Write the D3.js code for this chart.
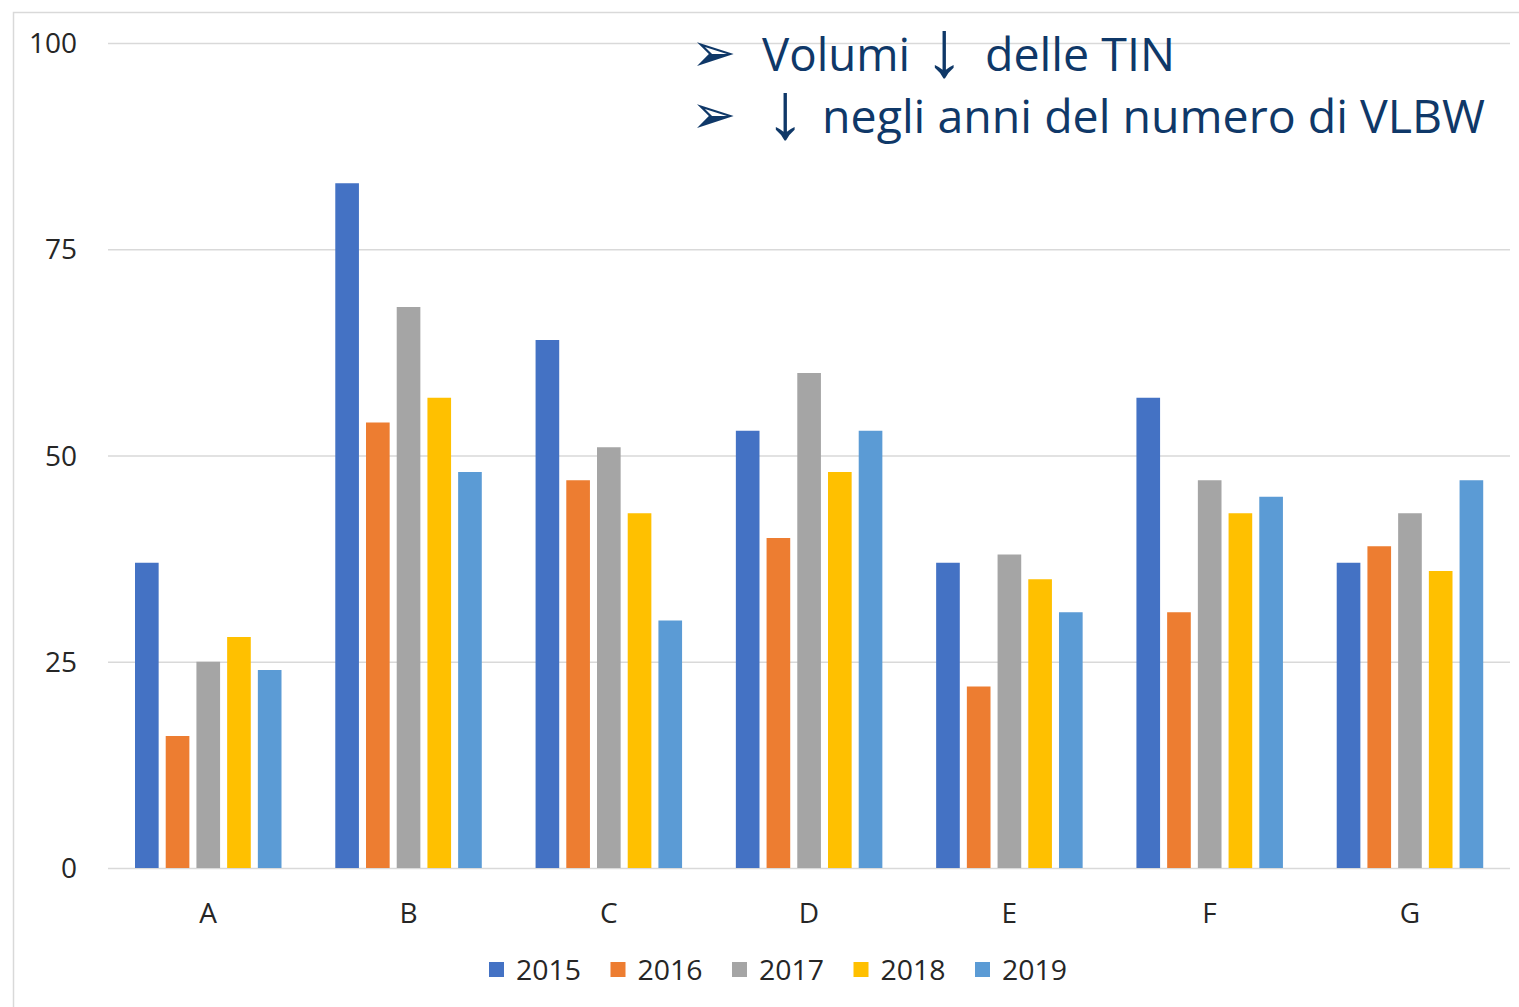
<!DOCTYPE html>
<html>
<head>
<meta charset="utf-8">
<script src="https://cdn.jsdelivr.net/npm/d3@7"></script>
<style>
	body { margin: 0; background: #fff; }
	svg { display: block; }
	.tick text { fill: #262626; }
</style>
</head>
<body>
<svg id="chart" width="1519" height="1007"></svg>
<script>
'use strict';

var categories = ['A', 'B', 'C', 'D', 'E', 'F', 'G'];
var years = ['2015', '2016', '2017', '2018', '2019'];
var yearColors = ['#4472C4', '#ED7D31', '#A5A5A5', '#FFC000', '#5B9BD5'];
var yTicks = [0, 25, 50, 75, 100];

// one array per year, values for A..G
var v2015 = [37, 83, 64, 53, 37, 57, 37];
var v2016 = [16, 54, 47, 40, 22, 31, 39];
var v2017 = [25, 68, 51, 60, 38, 47, 43];
var v2018 = [28, 57, 43, 48, 35, 43, 36];
var v2019 = [24, 48, 30, 53, 31, 45, 47];

// annotation pieces: line, kind, text
var notePieces = [
	{ line: 0, kind: 'bullet', text: '\u27a2', x: 691 },
	{ line: 0, kind: 'word', text: 'Volumi', x: 762, w: 148 },
	{ line: 0, kind: 'arrow', text: '\u2193', x: 944 },
	{ line: 0, kind: 'word', text: 'delle TIN', x: 985, w: 190 },
	{ line: 1, kind: 'bullet', text: '\u27a2', x: 691 },
	{ line: 1, kind: 'arrow', text: '\u2193', x: 785 },
	{ line: 1, kind: 'word', text: 'negli anni del numero di VLBW', x: 822, w: 663 }
];

var series = [v2015, v2016, v2017, v2018, v2019];
var NOTE_COLOR = '#0f3868';

var svg = d3.select('#chart');

// light frame round the chart
svg.append('path')
	.attr('d', 'M13.5,1007 V12.5 H1519')
	.attr('fill', 'none')
	.attr('stroke', '#d9d9d9')
	.attr('stroke-width', 1.5);

var x = d3.scaleBand()
	.domain(categories)
	.range([108, 1510]);

var xInner = d3.scaleBand()
	.domain(years)
	.range([27, 173.5])
	.paddingInner(0.23);

var y = d3.scaleLinear()
	.domain([0, 100])
	.range([868, 43]);

var color = d3.scaleOrdinal()
	.domain(years)
	.range(yearColors);

// gridlines
svg.append('g')
	.selectAll('line')
	.data(yTicks)
	.enter().append('line')
		.attr('x1', 108)
		.attr('x2', 1510)
		.attr('y1', function(d) { return y(d) + 0.5; })
		.attr('y2', function(d) { return y(d) + 0.5; })
		.attr('stroke', '#d9d9d9')
		.attr('stroke-width', 1.5);

// y axis labels
var yAxis = svg.append('g')
	.attr('transform', 'translate(77,0)')
	.call(d3.axisLeft(y).tickValues(yTicks).tickSize(0).tickPadding(0));
yAxis.select('.domain').remove();
yAxis.selectAll('text')
	.style('font-family', '"Open Sans", sans-serif')
	.style('font-size', '28px')
	.attr('dy', '0.34em');

// x axis labels
var xAxis = svg.append('g')
	.attr('transform', 'translate(0,868)')
	.call(d3.axisBottom(x).tickSize(0).tickPadding(35));
xAxis.select('.domain').remove();
xAxis.selectAll('text')
	.style('font-family', '"Open Sans", sans-serif')
	.style('font-size', '28px');

// bars
var groups = svg.append('g')
	.selectAll('g')
	.data(categories)
	.enter().append('g')
		.attr('transform', function(d) { return 'translate(' + x(d) + ',0)'; });

groups.selectAll('rect')
	.data(function(c, ci) {
		return years.map(function(yr, yi) { return { year: yr, value: series[yi][ci] }; });
	})
	.enter().append('rect')
		.attr('x', function(d) { return xInner(d.year); })
		.attr('y', function(d) { return y(d.value); })
		.attr('width', xInner.bandwidth())
		.attr('height', function(d) { return y(0) - y(d.value); })
		.attr('fill', function(d) { return color(d.year); });

// legend
var legend = svg.append('g')
	.selectAll('g')
	.data(years)
	.enter().append('g')
		.attr('transform', function(d, i) { return 'translate(' + (489 + i * 121.5) + ',962)'; });

legend.append('rect')
	.attr('width', 15)
	.attr('height', 15)
	.attr('fill', function(d) { return color(d); });

legend.append('text')
	.attr('x', 27)
	.attr('y', 18)
	.style('font-family', '"Open Sans", sans-serif')
	.style('font-size', '28px')
	.attr('fill', '#262626')
	.attr('textLength', 65)
	.attr('lengthAdjust', 'spacingAndGlyphs')
	.text(function(d) { return d; });

// annotation: bullets, words and down arrows
var notes = svg.append('g')
	.selectAll('text')
	.data(notePieces)
	.enter().append('text')
		.attr('x', function(d) { return d.x; })
		.attr('y', function(d) { return 71 + d.line * 62 + (d.kind === 'arrow' ? 5 : 0); })
		.attr('fill', NOTE_COLOR)
		.attr('text-anchor', function(d) { return d.kind === 'arrow' ? 'middle' : 'start'; })
		.style('font-family', function(d) {
			if (d.kind === 'word') return '"Open Sans", sans-serif';
			if (d.kind === 'arrow') return '"Liberation Sans", sans-serif';
			return '"DejaVu Sans", sans-serif';
		})
		.style('font-size', function(d) {
			if (d.kind === 'bullet') return '54px';
			if (d.kind === 'arrow') return '80px';
			return '46px';
		})
		.text(function(d) { return d.text; });

notes.filter(function(d) { return d.kind === 'word'; })
	.attr('textLength', function(d) { return d.w; })
	.attr('lengthAdjust', 'spacingAndGlyphs');
</script>
</body>
</html>
